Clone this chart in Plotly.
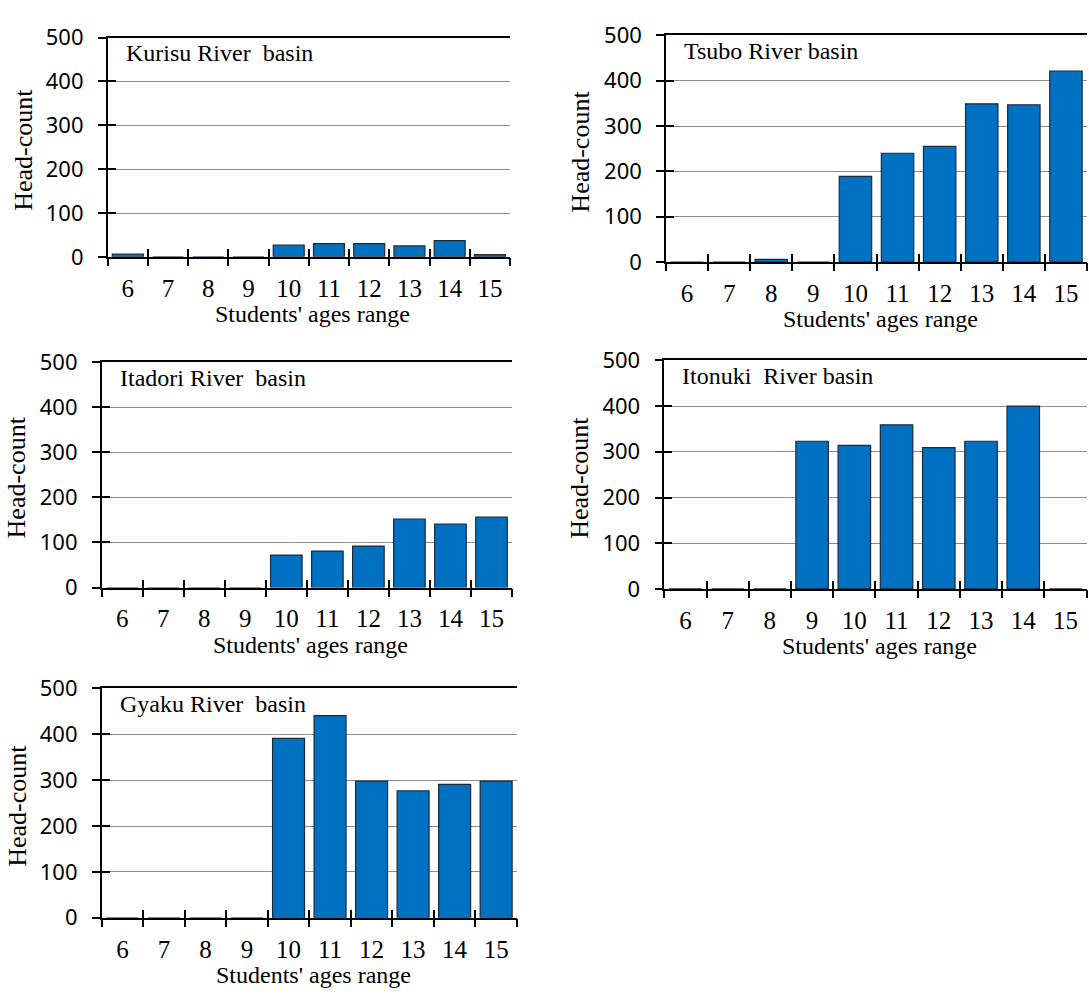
import plotly.graph_objects as go

# Student head-counts by age, per river basin
ages = [6, 7, 8, 9, 10, 11, 12, 13, 14, 15]
age_labels = [str(a) for a in ages]
y_ticks = [0, 100, 200, 300, 400, 500]

kurisu = [6, 0, 0, 0, 27, 30, 30, 25, 37, 5]
tsubo = [0, 0, 6, 0, 189, 240, 255, 349, 347, 421]
itadori = [0, 0, 0, 0, 72, 81, 92, 152, 141, 156]
itonuki = [0, 0, 0, 323, 314, 359, 309, 323, 400, 0]
gyaku = [0, 0, 0, 0, 391, 441, 298, 277, 291, 298]

basin_names = ["Kurisu River  basin", "Tsubo River basin", "Itadori River  basin",
               "Itonuki  River basin", "Gyaku River  basin"]
basin_values = [kurisu, tsubo, itadori, itonuki, gyaku]

W, H = 1089, 999
# plot-area boxes in pixels: (left, right, top, bottom)
boxes = [
    (107.7, 510.0, 22.3, 248.3),
    (666.0, 1087.0, 20.0, 253.7),
    (101.7, 512.0, 356.7, 589.3),
    (664.3, 1086.6, 355.0, 590.7),
    (101.7, 516.9, 693.3, 929.7),
]

BAR = "#0070C0"
EDGE = "#1c2a3c"
GRID = "#8c8c8c"
SERIF = "Liberation Serif"
SANS = "Noto Sans"

boundaries = [a - 0.5 for a in ages] + [ages[-1] + 0.5]
xrange_ = [ages[0] - 0.5, ages[-1] + 0.5]

fig = go.Figure()
annotations = []
layout = {}

for i, (name, vals, box) in enumerate(zip(basin_names, basin_values, boxes), start=1):
    l, r, t, b = box
    xdom = [l / W, r / W]
    ydom = [1 - b / H, 1 - t / H]
    xo, xi, yi = i + 5, i + 10, i + 5

    fig.add_trace(go.Bar(
        x=ages, y=vals, width=0.77,
        marker=dict(color=BAR, line=dict(color=EDGE, width=1.2)),
        xaxis=f"x{i}", yaxis=f"y{i}", showlegend=False, hoverinfo="x+y",
    ))
    # empty helpers so the tick-only overlay axes are drawn
    fig.add_trace(go.Scatter(x=[], y=[], xaxis=f"x{xo}", yaxis=f"y{i}", showlegend=False))
    fig.add_trace(go.Scatter(x=[], y=[], xaxis=f"x{xi}", yaxis=f"y{i}", showlegend=False))
    fig.add_trace(go.Scatter(x=[], y=[], xaxis=f"x{i}", yaxis=f"y{yi}", showlegend=False))

    layout[f"xaxis{i}"] = dict(
        domain=xdom, anchor=f"y{i}", range=xrange_, tickmode="array",
        tickvals=ages, ticktext=age_labels, ticks="", showgrid=False,
        zeroline=False, showline=True, linecolor="black", linewidth=1.5,
        mirror=True,
        tickfont=dict(family=SERIF, size=25, color="black"), ticklabelstandoff=8,
    )
    layout[f"xaxis{xo}"] = dict(
        domain=xdom, anchor=f"y{i}", overlaying=f"x{i}", range=xrange_,
        tickmode="array", tickvals=boundaries, ticks="outside", ticklen=8,
        tickwidth=1.5, tickcolor="black", showticklabels=False,
        showgrid=False, zeroline=False, showline=False,
    )
    layout[f"xaxis{xi}"] = dict(
        domain=xdom, anchor=f"y{i}", overlaying=f"x{i}", range=xrange_,
        tickmode="array", tickvals=boundaries, ticks="inside", ticklen=8,
        tickwidth=1.5, tickcolor="black", showticklabels=False,
        showgrid=False, zeroline=False, showline=False,
    )
    layout[f"yaxis{i}"] = dict(
        domain=ydom, anchor=f"x{i}", range=[0, 500], tickmode="array",
        tickvals=y_ticks, ticks="outside", ticklen=8, tickwidth=1.5,
        tickcolor="black", showline=True, linecolor="black", linewidth=1.5,
        showgrid=True, gridcolor=GRID, gridwidth=1.2, zeroline=False,
        tickfont=dict(family=SANS, size=22, color="black"), ticklabelstandoff=10,
    )
    layout[f"yaxis{yi}"] = dict(
        domain=ydom, anchor=f"x{i}", overlaying=f"y{i}", range=[0, 500],
        tickmode="array", tickvals=y_ticks, ticks="inside", ticklen=8,
        tickwidth=1.5, tickcolor="black", showticklabels=False,
        showgrid=False, zeroline=False, showline=False,
    )

    # basin name inside the plot area
    annotations.append(dict(
        text=name, xref="paper", yref="paper", x=(l + 16) / W, y=1 - (t + 16) / H,
        xanchor="left", yanchor="middle", showarrow=False,
        font=dict(family=SERIF, size=24, color="black"),
    ))
    # y-axis title
    annotations.append(dict(
        text="Head-count", xref="paper", yref="paper", x=(l - 85) / W,
        y=1 - ((t + b) / 2 + 3) / H, textangle=-90, xanchor="center",
        yanchor="middle", showarrow=False,
        font=dict(family=SERIF, size=26, color="black"),
    ))
    # x-axis title
    annotations.append(dict(
        text="Students' ages range", xref="paper", yref="paper",
        x=((l + r) / 2 + 4) / W, y=1 - (b + 59) / H, xanchor="center",
        yanchor="middle", showarrow=False,
        font=dict(family=SERIF, size=24, color="black"),
    ))

fig.update_layout(
    width=W, height=H, margin=dict(l=0, r=0, t=0, b=0),
    paper_bgcolor="white", plot_bgcolor="white",
    annotations=annotations, bargap=0.23, **layout,
)

fig.write_html("out.html")
